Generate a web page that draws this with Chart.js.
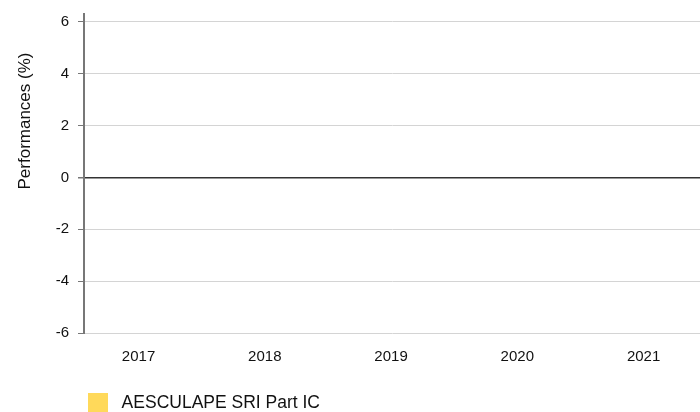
<!DOCTYPE html>
<html>
<head>
<meta charset="utf-8">
<script src="https://cdn.jsdelivr.net/npm/chart.js@4/dist/chart.umd.min.js"></script>
<style>
  html, body { margin: 0; padding: 0; background: #fff; }
  #wrap { width: 700px; height: 412px; position: relative; }
</style>
</head>
<body>
<div id="wrap"><canvas id="myChart"></canvas></div>
<script>
/* ================= DATA ================= */
const years = [2017, 2018, 2019, 2020, 2021];
const fundValues = [null, null, null, null, null];
const yTicks = [-6, -4, -2, 0, 2, 4, 6];
const seriesName = 'AESCULAPE SRI Part IC';
const yTitle = 'Performances (%)';

const FONT = 'Liberation Sans, Arial, sans-serif';
const TEXT = '#111';

/* ================= PLUGINS ================= */
// legend sits further right and lower than chart.js puts it
const legendShift = {
    id: 'legendShift',
    afterLayout(chart) {
        chart.legend.left += 78;
        chart.legend.top += 11;
    }
};

// y title is not centred on the plot in the original
const yTitlePlugin = {
    id: 'yTitlePlugin',
    afterDraw(chart) {
        const ctx = chart.ctx;
        ctx.save();
        ctx.translate(25, 121);
        ctx.rotate(-Math.PI / 2);
        ctx.font = '17px ' + FONT;
        ctx.fillStyle = TEXT;
        ctx.textAlign = 'center';
        ctx.textBaseline = 'middle';
        ctx.fillText(yTitle, 0, 0);
        ctx.restore();
    }
};

/* ================= CHART ================= */
new Chart(document.getElementById('myChart'), {
    type: 'bar',
    data: {
        datasets: [{
            label: seriesName,
            data: years.map((y, i) => ({ x: y, y: fundValues[i] })),
            backgroundColor: '#FFD95A',
            borderWidth: 0
        }]
    },
    options: {
        responsive: true,
        maintainAspectRatio: false,
        animation: false,
        layout: { padding: 0 },
        plugins: {
            tooltip: { enabled: false },
            legend: {
                position: 'bottom',
                align: 'start',
                labels: {
                    boxWidth: 20,
                    boxHeight: 20,
                    padding: 10,
                    color: TEXT,
                    font: { family: FONT, size: 17.5 },
                    generateLabels: chart =>
                        Chart.defaults.plugins.legend.labels.generateLabels(chart)
                            .map(l => ({ ...l, text: ' ' + l.text }))
                }
            }
        },
        scales: {
            x: {
                type: 'linear',
                offset: false,
                min: 2016.568,
                max: 2021.447,
                afterBuildTicks: axis => { axis.ticks = years.map(v => ({ value: v })); },
                afterFit: s => {
                    s.height = 39;
                    s.paddingLeft = 0;
                    s.paddingRight = 0;
                },
                grid: { display: false, drawTicks: false },
                border: { display: false },
                ticks: {
                    padding: 15,
                    color: TEXT,
                    font: { family: FONT, size: 15 },
                    callback: v => String(v),
                    maxRotation: 0
                }
            },
            y: {
                min: -6,
                max: 6.3,
                afterBuildTicks: axis => { axis.ticks = yTicks.map(v => ({ value: v })); },
                afterFit: s => {
                    s.width = 84;
                    s.paddingTop = 14;
                    s.paddingBottom = 0;
                },
                border: { display: true, color: '#777', width: 2 },
                grid: {
                    color: ctx => ctx.tick && ctx.tick.value === 0 ? '#333' : '#d4d4d4',
                    lineWidth: ctx => ctx.tick && ctx.tick.value === 0 ? 1.5 : 1,
                    tickColor: '#777',
                    tickLength: 6
                },
                ticks: {
                    padding: 9,
                    color: TEXT,
                    font: { family: FONT, size: 15 }
                }
            }
        }
    },
    plugins: [legendShift, yTitlePlugin]
});
</script>
</body>
</html>
